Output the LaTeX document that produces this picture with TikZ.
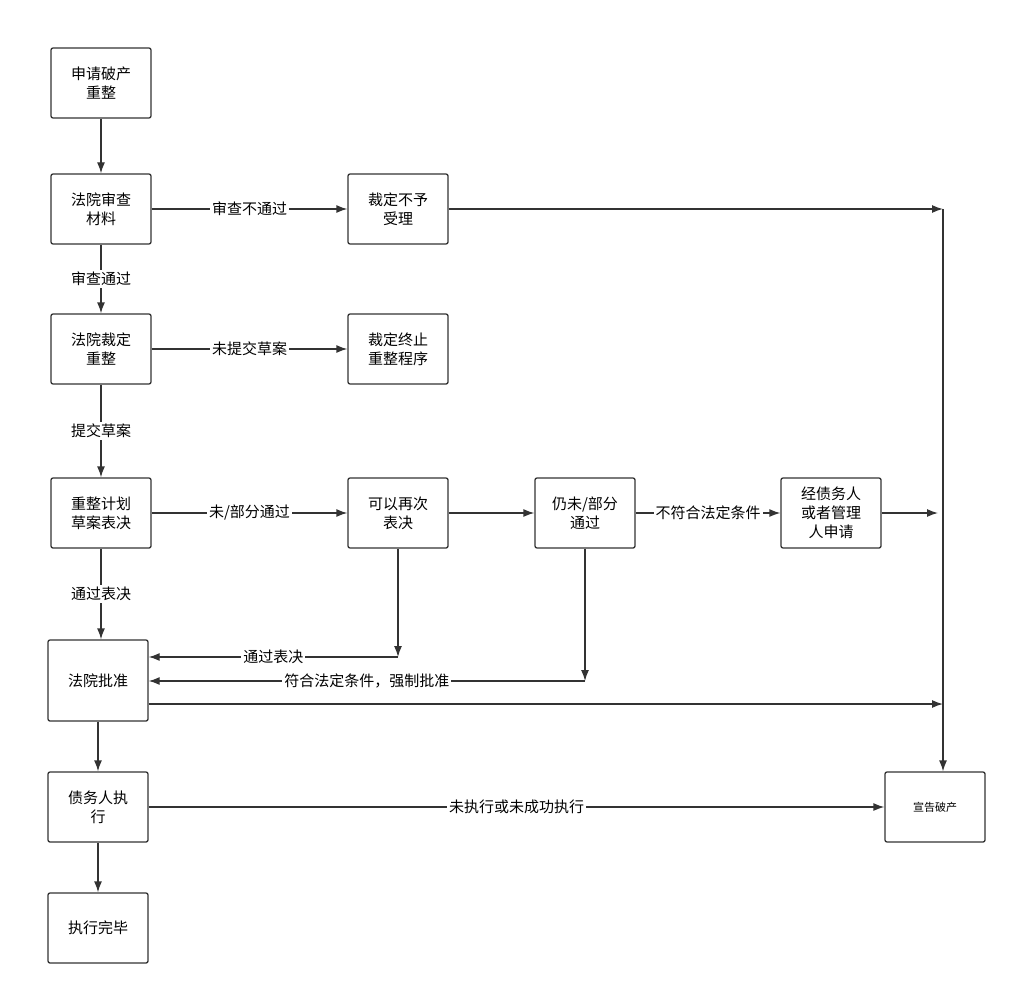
\documentclass[tikz,border=0pt]{standalone}
\usepackage{fontspec}
\setmainfont{Noto Sans CJK SC}
\usetikzlibrary{arrows.meta}
\begin{document}
\begin{tikzpicture}[x=1pt,y=-1pt,line width=1.3pt,draw=black!80,
    font=\fontsize{15}{19}\selectfont,
    box/.style={draw=black!80,rounded corners=2pt,minimum width=100pt,minimum height=70pt,align=center,text width=80pt},
    lab/.style={fill=white,inner sep=2pt},
    arr/.style={-{Latex[length=11pt,width=8pt]}}]
  \useasboundingbox (0,0) rectangle (1017,995);
  % 主线
  \node[box] (apply) at (101,83) {申请破产\\重整};
  \node[box] (review) at (101,209) {法院审查\\材料};
  \node[box] (reject) at (398,209) {裁定不予\\受理};
  \node[box] (ruling) at (101,349) {法院裁定\\重整};
  \node[box] (stop) at (398,349) {裁定终止\\重整程序};
  \node[box] (vote) at (101,513) {重整计划\\草案表决};
  \node[box] (revote) at (398,513) {可以再次\\表决};
  \node[box] (fail) at (585,513) {仍未/部分\\通过};
  \node[box] (req) at (831,513) {经债务人\\或者管理\\人申请};
  \node[box,minimum height=81pt] (approve) at (98,680.5) {法院批准};
  \node[box] (exec) at (98,807) {债务人执\\行};
  \node[box] (done) at (98,928) {执行完毕};
  \node[box,font=\fontsize{11}{14}\selectfont] (bankrupt) at (935,807) {宣告破产};
  % 右侧汇总线
  \coordinate (r1) at (943,209);
  \coordinate (r2) at (938,513);
  \coordinate (r3) at (943,704);
  \coordinate (g1) at (398,657);
  \coordinate (h1) at (585,681);
  \draw[arr] (apply) -- (review);
  \draw[arr] (review) -- node[lab] {审查通过} (ruling);
  \draw[arr] (ruling) -- node[lab] {提交草案} (vote);
  \draw[arr] (vote) -- node[lab] {通过表决} (vote.south |- approve.north);
  \draw[arr] (approve) -- (exec);
  \draw[arr] (exec) -- (done);
  \draw[arr] (review) -- node[lab] {审查不通过} (reject);
  \draw[arr] (ruling) -- node[lab] {未提交草案} (stop);
  \draw[arr] (vote) -- node[lab] {未/部分通过} (revote);
  \draw[arr] (revote) -- (fail);
  \draw[arr] (fail) -- node[lab] {不符合法定条件} (req);
  \draw[arr] (req) -- (r2);
  \draw[arr] (reject) -- (r1);
  \draw[arr] (r1) -- (bankrupt.north -| r1);
  \draw[arr] (revote) -- (g1);
  \draw[arr] (g1) -- node[lab] {通过表决} (approve.east |- g1);
  \draw[arr] (fail) -- (h1);
  \draw[arr] (h1) -- node[lab] {符合法定条件，强制批准} (approve.east |- h1);
  \draw[arr] (approve.east |- r3) -- (r3);
  \draw[arr] (exec) -- node[lab] {未执行或未成功执行} (bankrupt);
\end{tikzpicture}
\end{document}
